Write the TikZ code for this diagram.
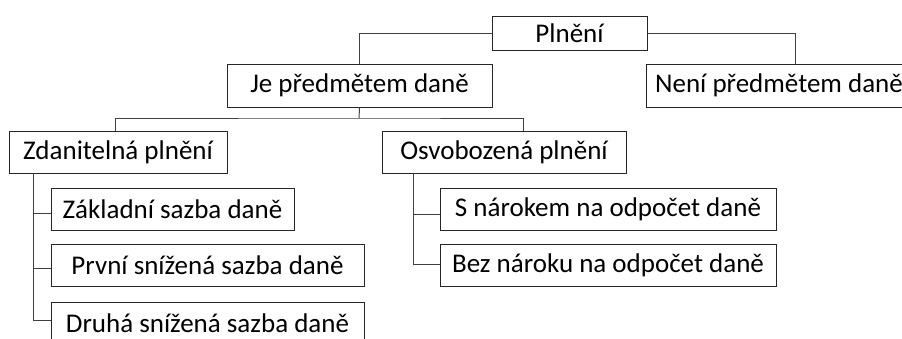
\documentclass[tikz,border=0pt]{standalone}
\usepackage{fontspec}
\setmainfont{Carlito}
\begin{document}
\begin{tikzpicture}[x=1pt,y=-1pt,
  box/.style={draw=black!85, line width=1pt, inner sep=0pt, minimum height=42pt, font=\fontsize{27}{30}\selectfont, text=black},
  conn/.style={draw=black!75, line width=1pt}]
\useasboundingbox (0,0) rectangle (902,338);
\clip (0,0) rectangle (902,338);
\node[box, minimum width=155pt, minimum height=34pt] (plneni) at (569.5,33) {Plnění};
\node[box, minimum width=265pt, minimum height=43pt] (je) at (359.5,85.5) {Je předmětem daně};
\node[box, minimum width=266pt, minimum height=43pt] (neni) at (779,85.5) {Není předmětem daně};
\node[box, minimum width=218pt] (zdan) at (118,152) {Zdanitelná plnění};
\node[box, minimum width=244pt] (osvo) at (504,152) {Osvobozená plnění};
\node[box, minimum width=243pt] (zakl) at (172.5,209) {Základní sazba daně};
\node[box, minimum width=313pt] (prvni) at (207.5,265) {První snížená sazba daně};
\node[box, minimum width=313pt] (druha) at (207.5,323) {Druhá snížená sazba daně};
\node[box, minimum width=336pt] (snar) at (608,209) {S nárokem na odpočet daně};
\node[box, minimum width=336pt] (bez) at (608,265) {Bez nároku na odpočet daně};
% coordinates
\coordinate (nt) at (795,64);
\coordinate (bus) at (359,118);
\coordinate (zt) at (115,131);
\coordinate (ot) at (523,131);
\coordinate (lt) at (33,173);
\coordinate (l1) at (33,213);
\coordinate (l2) at (33,268);
\coordinate (l3) at (33,320);
\coordinate (rt) at (413,173);
\coordinate (r1) at (413,214);
\coordinate (r2) at (413,264);
% connectors
\draw[conn] (plneni.west) -| (je.north);
\draw[conn] (plneni.east) -| (nt);
\draw[conn] (je.south) -- (bus);
\draw[conn] (zt) |- (bus) -| (ot);
\draw[conn] (lt) -- (l3);
\draw[conn] (l1) -- (l1 -| zakl.west);
\draw[conn] (l2) -- (l2 -| prvni.west);
\draw[conn] (l3) -- (l3 -| druha.west);
\draw[conn] (rt) -- (r2);
\draw[conn] (r1) -- (r1 -| snar.west);
\draw[conn] (r2) -- (r2 -| bez.west);
\end{tikzpicture}
\end{document}
